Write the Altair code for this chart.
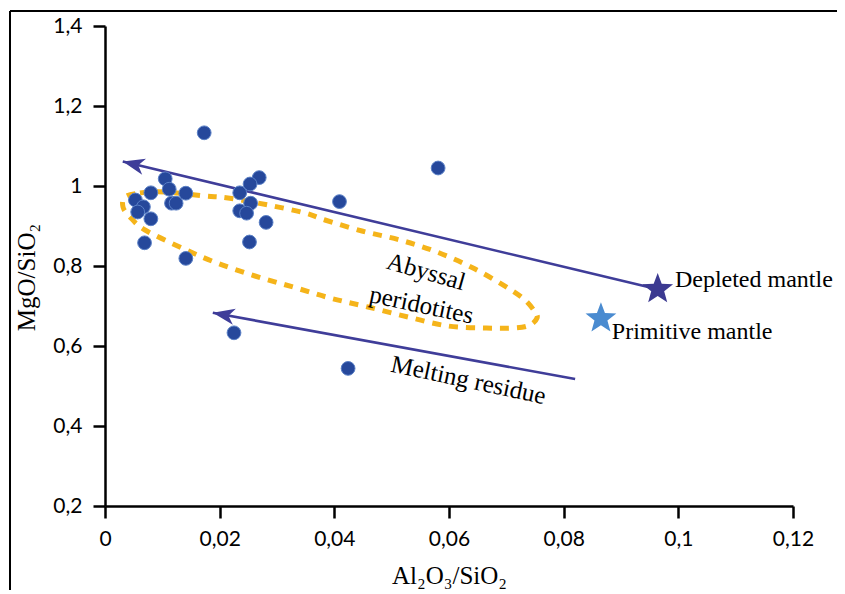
import altair as alt
import pandas as pd

# Sample points (Al2O3/SiO2, MgO/SiO2)
sample_x = [0.0173, 0.0105, 0.0269, 0.0080, 0.0112, 0.0141, 0.0053, 0.0067, 0.0057,
            0.0080, 0.0116, 0.0124, 0.0069, 0.0141, 0.0235, 0.0253, 0.0254, 0.0235,
            0.0247, 0.0281, 0.0252, 0.0225, 0.0424, 0.0409, 0.0581]
sample_y = [1.133, 1.018, 1.021, 0.983, 0.992, 0.982, 0.965, 0.948, 0.935,
            0.918, 0.957, 0.957, 0.858, 0.819, 0.983, 1.005, 0.957, 0.938,
            0.932, 0.909, 0.860, 0.633, 0.544, 0.961, 1.045]

# Reference compositions
ref_names = ["Depleted mantle", "Primitive mantle"]
ref_x = [0.0964, 0.0865]
ref_y = [0.742, 0.669]
ref_colors = ["#3c3a91", "#4a8bd0"]
ref_label_x = [0.0994, 0.0884]
ref_label_y = [0.748, 0.6175]

# Trend arrows (tail -> tip)
arrow_x = [0.0964, 0.0820]
arrow_y = [0.742, 0.5175]
arrow_tip_x = [0.0031, 0.0188]
arrow_tip_y = [1.061, 0.683]
arrow_angle = [13.4, 10.4]

# Abyssal peridotite field outline
field_x = [0.00349, 0.0061, 0.01047, 0.01744, 0.02145, 0.02843, 0.03488, 0.03837,
           0.04483, 0.05145, 0.05791, 0.06419, 0.07029, 0.07326, 0.0750, 0.07535,
           0.07413, 0.07151, 0.06628, 0.05983, 0.05285, 0.04587, 0.03924, 0.03279,
           0.02616, 0.01953, 0.01343, 0.00698, 0.00436, 0.00314]
field_y = [0.9725, 0.9825, 0.985, 0.975, 0.970, 0.9525, 0.9325, 0.915,
           0.8875, 0.865, 0.835, 0.795, 0.745, 0.715, 0.685, 0.670,
           0.6525, 0.645, 0.645, 0.650, 0.6725, 0.6975, 0.720, 0.7475,
           0.775, 0.8075, 0.845, 0.890, 0.9225, 0.9475]

# Text annotations
ann_text = ["Abyssal", "peridotites", "Melting residue"]
ann_x = [0.0560, 0.0552, 0.0634]
ann_y = [0.786, 0.7025, 0.515]
ann_angle = [16, 12, 12]

x_ticks = [0, 0.02, 0.04, 0.06, 0.08, 0.1, 0.12]
y_ticks = [0.2, 0.4, 0.6, 0.8, 1, 1.2, 1.4]

samples = pd.DataFrame({"px": sample_x, "py": sample_y})
refs = pd.DataFrame({"name": ref_names, "rx": ref_x, "ry": ref_y, "col": ref_colors,
                     "lx": ref_label_x, "ly": ref_label_y})
arrows = pd.DataFrame({"ax": arrow_x, "ay": arrow_y, "tx": arrow_tip_x, "ty": arrow_tip_y,
                       "ang": arrow_angle})
field = pd.DataFrame({"fx": field_x, "fy": field_y, "ord": list(range(len(field_x)))})
ann = pd.DataFrame({"label": ann_text, "nx": ann_x, "ny": ann_y, "ang": ann_angle})

X_SCALE = alt.Scale(domain=[0, 0.12], nice=False, zero=False)
Y_SCALE = alt.Scale(domain=[0.2, 1.4], nice=False, zero=False)
LINE_COLOR = "#3f3d99"
SERIF = "Liberation Serif"
STAR = ("M0,-1 L0.2469,-0.3398 L0.9511,-0.309 L0.3994,0.1298 L0.5878,0.809 "
        "L0,0.42 L-0.5878,0.809 L-0.3994,0.1298 L-0.9511,-0.309 L-0.2469,-0.3398 Z")
ARROW_HEAD = "M0,0 L2,-0.75 L1.45,0 L2,0.75 Z"

X_AXIS = alt.Axis(orient="bottom", values=x_ticks,
                  labelExpr="replace(toString(datum.value), '.', ',')",
                  title="Al₂O₃/SiO₂", titleFont=SERIF, titleFontSize=25,
                  titleFontWeight="normal", titleX=344, titleY=77,
                  titleBaseline="alphabetic", titleAlign="center",
                  grid=False, tickSize=12, labelPadding=10)
Y_AXIS = alt.Axis(orient="left", values=y_ticks,
                  labelExpr="replace(toString(datum.value), '.', ',')",
                  title="MgO/SiO₂", titleFont=SERIF, titleFontSize=25,
                  titleFontWeight="normal", titleX=-79, titleY=251, titleAngle=270,
                  titleBaseline="middle", titleAlign="center",
                  grid=False, tickSize=12, labelPadding=11)


def X(f):
    return alt.X(f, scale=X_SCALE, axis=X_AXIS)


def Y(f):
    return alt.Y(f, scale=Y_SCALE, axis=Y_AXIS)


field_layer = alt.Chart(field).mark_line(
    color="#f5b41a", strokeWidth=5, strokeDash=[9, 8], strokeCap="butt",
    interpolate="cardinal-closed"
).encode(x=X("fx:Q"), y=Y("fy:Q"), order="ord:Q")

arrow_lines = alt.Chart(arrows).mark_rule(color=LINE_COLOR, strokeWidth=2.6).encode(
    x=X("ax:Q"), y=Y("ay:Q"), x2="tx:Q", y2="ty:Q")

arrow_heads = alt.Chart(arrows).mark_point(
    shape=ARROW_HEAD, size=480, filled=True, color=LINE_COLOR, opacity=1
).encode(x=X("tx:Q"), y=Y("ty:Q"), angle=alt.Angle("ang:Q", scale=None))

points = alt.Chart(samples).mark_point(
    shape="circle", filled=True, size=190, fill="#26489b", stroke="#5a80c6",
    strokeWidth=1, opacity=1
).encode(x=X("px:Q"), y=Y("py:Q"))

stars = alt.Chart(refs).mark_point(shape=STAR, filled=True, size=1050, opacity=1).encode(
    x=X("rx:Q"), y=Y("ry:Q"), fill=alt.Fill("col:N", scale=None, legend=None))

ref_labels = alt.Chart(refs).mark_text(
    font=SERIF, fontSize=24, align="left", baseline="alphabetic", color="black"
).encode(x=X("lx:Q"), y=Y("ly:Q"), text="name:N")

ann_labels = alt.Chart(ann).mark_text(
    font=SERIF, fontSize=25, align="center", baseline="middle", color="black"
).encode(x=X("nx:Q"), y=Y("ny:Q"), text="label:N",
         angle=alt.Angle("ang:Q", scale=None))

frame_top = alt.Chart(samples).mark_rule(color="black", strokeWidth=2, clip=False).encode(
    x=alt.value(-95), x2=alt.value(760), y=alt.value(-15))
frame_left = alt.Chart(samples).mark_rule(color="black", strokeWidth=2, clip=False).encode(
    x=alt.value(-95), y=alt.value(-15), y2=alt.value(600))

chart = alt.layer(
    frame_top, frame_left, field_layer, arrow_lines, arrow_heads, points, stars,
    ref_labels, ann_labels
).properties(
    width=688, height=480,
    autosize=alt.AutoSizeParams(type="none"),
    padding={"left": 97, "top": 18, "right": 44, "bottom": 84},
).configure_view(stroke=None).configure_axis(
    domainColor="black", domainWidth=2.5, tickColor="black", tickWidth=2.5,
    labelColor="black", labelFont="Lato", labelFontSize=21, titleColor="black",
    labelFlush=False, labelOverlap=False
)

chart.save("out.html", embed_options={"renderer": "svg", "actions": False})
